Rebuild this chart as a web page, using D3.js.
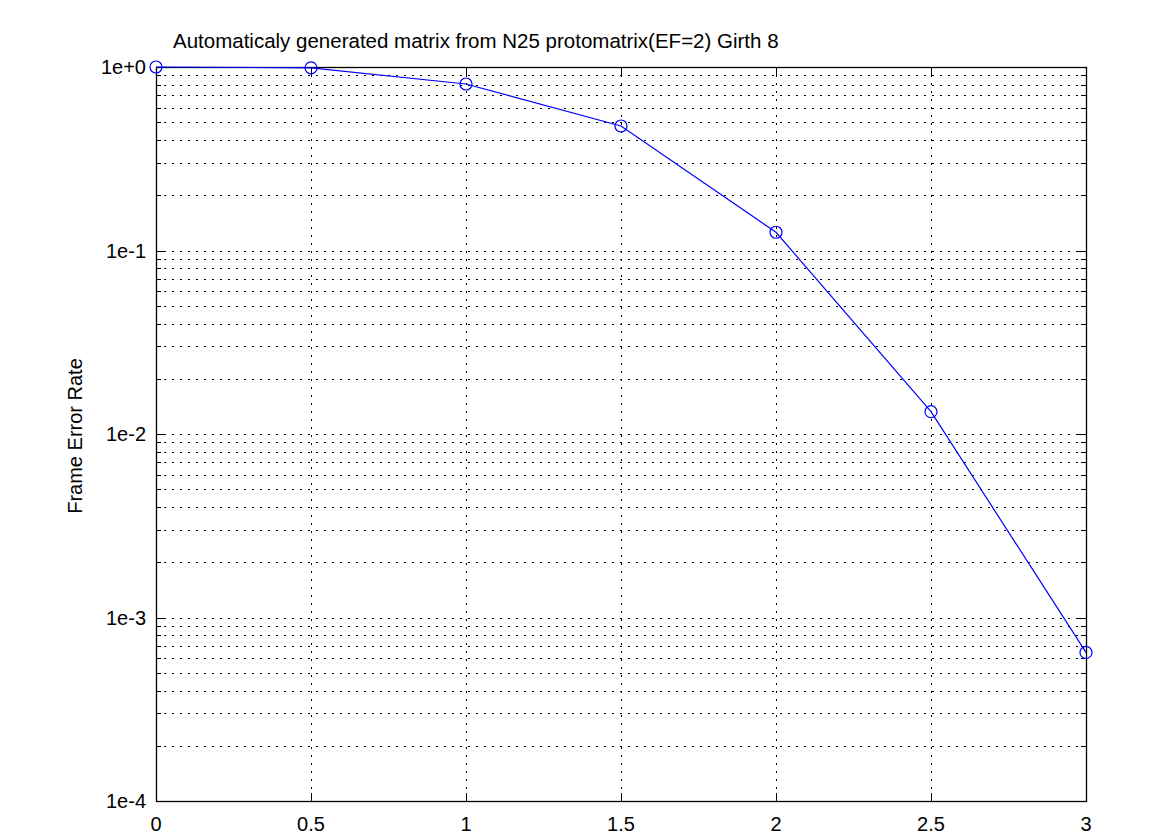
<!doctype html>
<html>
<head>
	<meta charset="UTF-8">
	<title>Frame Error Rate</title>
	<script src="https://d3js.org/d3.v7.min.js"></script>
	<style>
		body { margin: 0; background: #fff; }
		text { font-family: "Liberation Sans", Arial, sans-serif; fill: #000; }
	</style>
</head>
<body>
	<script>
		// data
		var snr = [0, 0.5, 1, 1.5, 2, 2.5, 3];
		var fer = [1.0, 0.99, 0.808, 0.477, 0.1257, 0.01323, 0.000645];
		var xTicks = [0, 0.5, 1, 1.5, 2, 2.5, 3];
		var yTicks = [1, 1e-1, 1e-2, 1e-3, 1e-4];
		var yTickLabels = ["1e+0", "1e-1", "1e-2", "1e-3", "1e-4"];
		var titleText = "Automaticaly generated matrix from N25 protomatrix(EF=2) Girth 8";
		var yLabel = "Frame Error Rate";

		var width = 1175, height = 835;
		var margin = {top: 67, right: 89, bottom: 34, left: 156};
		var fontSize = 20;

		var svg = d3.select("body").append("svg")
			.attr("width", width)
			.attr("height", height);

		var x = d3.scaleLinear()
			.domain([0, 3])
			.range([margin.left, width - margin.right]);

		var y = d3.scaleLog()
			.domain([1e-4, 1])
			.range([height - margin.bottom, margin.top]);

		// minor values for horizontal grid lines
		var minor = [];
		for (var e = -4; e < 0; e++) {
			for (var m = 2; m <= 9; m++) minor.push(m * Math.pow(10, e));
		}
		var hGrid = yTicks.slice(1, 4).concat(minor);

		var grid = svg.append("g");

		grid.selectAll(".hg")
			.data(hGrid)
			.enter().append("line")
			.attr("x1", x(0)).attr("x2", x(3))
			.attr("y1", function(d) { return Math.round(y(d)) + 0.5; })
			.attr("y2", function(d) { return Math.round(y(d)) + 0.5; })
			.attr("stroke", "#000")
			.attr("stroke-width", 1)
			.attr("stroke-dasharray", "2,6");

		grid.selectAll(".vg")
			.data(xTicks.slice(1, 6))
			.enter().append("line")
			.attr("x1", function(d) { return Math.round(x(d)) + 0.5; })
			.attr("x2", function(d) { return Math.round(x(d)) + 0.5; })
			.attr("y1", y(1)).attr("y2", y(1e-4))
			.attr("stroke", "#000")
			.attr("stroke-width", 1)
			.attr("stroke-dasharray", "2,6");

		// tick marks inside the frame, left and right
		var allY = yTicks.concat(minor);
		["left", "right"].forEach(function(side) {
			var x0 = side == "left" ? x(0) : x(3);
			var dir = side == "left" ? 1 : -1;
			svg.append("g").selectAll("line")
				.data(allY)
				.enter().append("line")
				.attr("x1", x0)
				.attr("x2", function(d) { return x0 + dir * (yTicks.indexOf(d) >= 0 ? 8 : 5); })
				.attr("y1", function(d) { return Math.round(y(d)) + 0.5; })
				.attr("y2", function(d) { return Math.round(y(d)) + 0.5; })
				.attr("stroke", "#000");
		});

		// x tick marks at top and bottom
		[y(1), y(1e-4)].forEach(function(y0, k) {
			var dir = k == 0 ? 1 : -1;
			svg.append("g").selectAll("line")
				.data(xTicks)
				.enter().append("line")
				.attr("x1", function(d) { return Math.round(x(d)) + 0.5; })
				.attr("x2", function(d) { return Math.round(x(d)) + 0.5; })
				.attr("y1", y0).attr("y2", y0 + dir * 8)
				.attr("stroke", "#000");
		});

		// frame
		svg.append("rect")
			.attr("x", x(0) + 0.5)
			.attr("y", y(1) + 0.5)
			.attr("width", x(3) - x(0))
			.attr("height", y(1e-4) - y(1))
			.attr("fill", "none")
			.attr("stroke", "#000")
			.attr("stroke-width", 1.3);

		// tick labels
		svg.append("g").selectAll("text")
			.data(yTicks)
			.enter().append("text")
			.attr("x", x(0) - 10)
			.attr("y", function(d) { return y(d) + 7; })
			.attr("text-anchor", "end")
			.attr("font-size", fontSize)
			.text(function(d, i) { return yTickLabels[i]; });

		svg.append("g").selectAll("text")
			.data(xTicks)
			.enter().append("text")
			.attr("x", function(d) { return x(d); })
			.attr("y", y(1e-4) + 30)
			.attr("text-anchor", "middle")
			.attr("font-size", fontSize)
			.text(function(d) { return d; });

		// title and axis label
		svg.append("text")
			.attr("x", 173)
			.attr("y", 48)
			.attr("font-size", 20.5)
			.text(titleText);

		svg.append("text")
			.attr("transform", "translate(82," + (y(1e-2) + 2) + ") rotate(-90)")
			.attr("text-anchor", "middle")
			.attr("font-size", fontSize)
			.text(yLabel);

		// series
		var pts = snr.map(function(d, i) { return [d, fer[i]]; });

		var line = d3.line()
			.x(function(d) { return x(d[0]); })
			.y(function(d) { return y(d[1]); });

		svg.append("path")
			.datum(pts)
			.attr("d", line)
			.attr("fill", "none")
			.attr("stroke", "#0000ff")
			.attr("stroke-width", 1.2);

		svg.append("g").selectAll("circle")
			.data(pts)
			.enter().append("circle")
			.attr("cx", function(d) { return x(d[0]); })
			.attr("cy", function(d) { return y(d[1]); })
			.attr("r", 6)
			.attr("fill", "none")
			.attr("stroke", "#0000ff")
			.attr("stroke-width", 1.2);
	</script>
</body>
</html>
